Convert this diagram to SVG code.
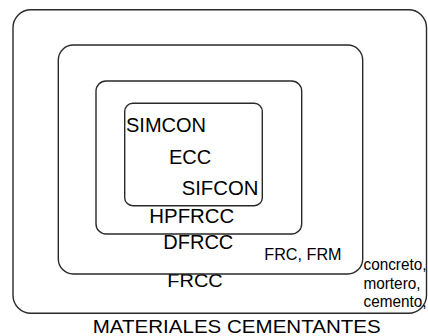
<svg xmlns="http://www.w3.org/2000/svg" width="428" height="336" viewBox="0 0 428 336">
<style>
.box{fill:none;stroke:#2a2a2a;stroke-width:1.4}
.t{font-family:"Liberation Sans",Arial,sans-serif;fill:#000}
</style>
<rect width="428" height="336" fill="#fff"/>
<g id="materiales-cementantes">
<rect class="box" x="13" y="9.7" width="413.5" height="303.5" rx="18"/>
<text class="t" x="92.7" y="333" font-size="19" textLength="288" lengthAdjust="spacingAndGlyphs">MATERIALES CEMENTANTES</text>
<text class="t" x="363.5" y="270" font-size="16" textLength="63" lengthAdjust="spacingAndGlyphs">concreto,</text>
<text class="t" x="363.5" y="288.5" font-size="16" textLength="57" lengthAdjust="spacingAndGlyphs">mortero,</text>
<text class="t" x="363.5" y="307" font-size="16" textLength="63" lengthAdjust="spacingAndGlyphs">cemento,</text>
<text class="t" x="167.3" y="287.3" font-size="18" textLength="55.5" lengthAdjust="spacingAndGlyphs">FRCC</text>
</g>
<g id="frc">
<rect class="box" x="58.3" y="45" width="304.4" height="229" rx="15"/>
<text class="t" x="264.3" y="260" font-size="16.5" textLength="77.3" lengthAdjust="spacingAndGlyphs">FRC, FRM</text>
<text class="t" x="163.3" y="249.3" font-size="20.5" textLength="70" lengthAdjust="spacingAndGlyphs">DFRCC</text>
</g>
<g id="hpfrcc">
<rect class="box" x="96" y="81" width="205.7" height="153" rx="10"/>
<text class="t" x="149.3" y="222.7" font-size="20.5" textLength="85" lengthAdjust="spacingAndGlyphs">HPFRCC</text>
</g>
<g id="inner">
<rect class="box" x="124.7" y="103.3" width="137.6" height="102.4" rx="8"/>
<text class="t" x="126" y="131.5" font-size="20.5" textLength="80" lengthAdjust="spacingAndGlyphs">SIMCON</text>
<text class="t" x="169" y="164.3" font-size="20" textLength="42.3" lengthAdjust="spacingAndGlyphs">ECC</text>
<text class="t" x="181.7" y="194.5" font-size="20.5" textLength="76.7" lengthAdjust="spacingAndGlyphs">SIFCON</text>
</g>
<g id="connectors"></g>
</svg>
